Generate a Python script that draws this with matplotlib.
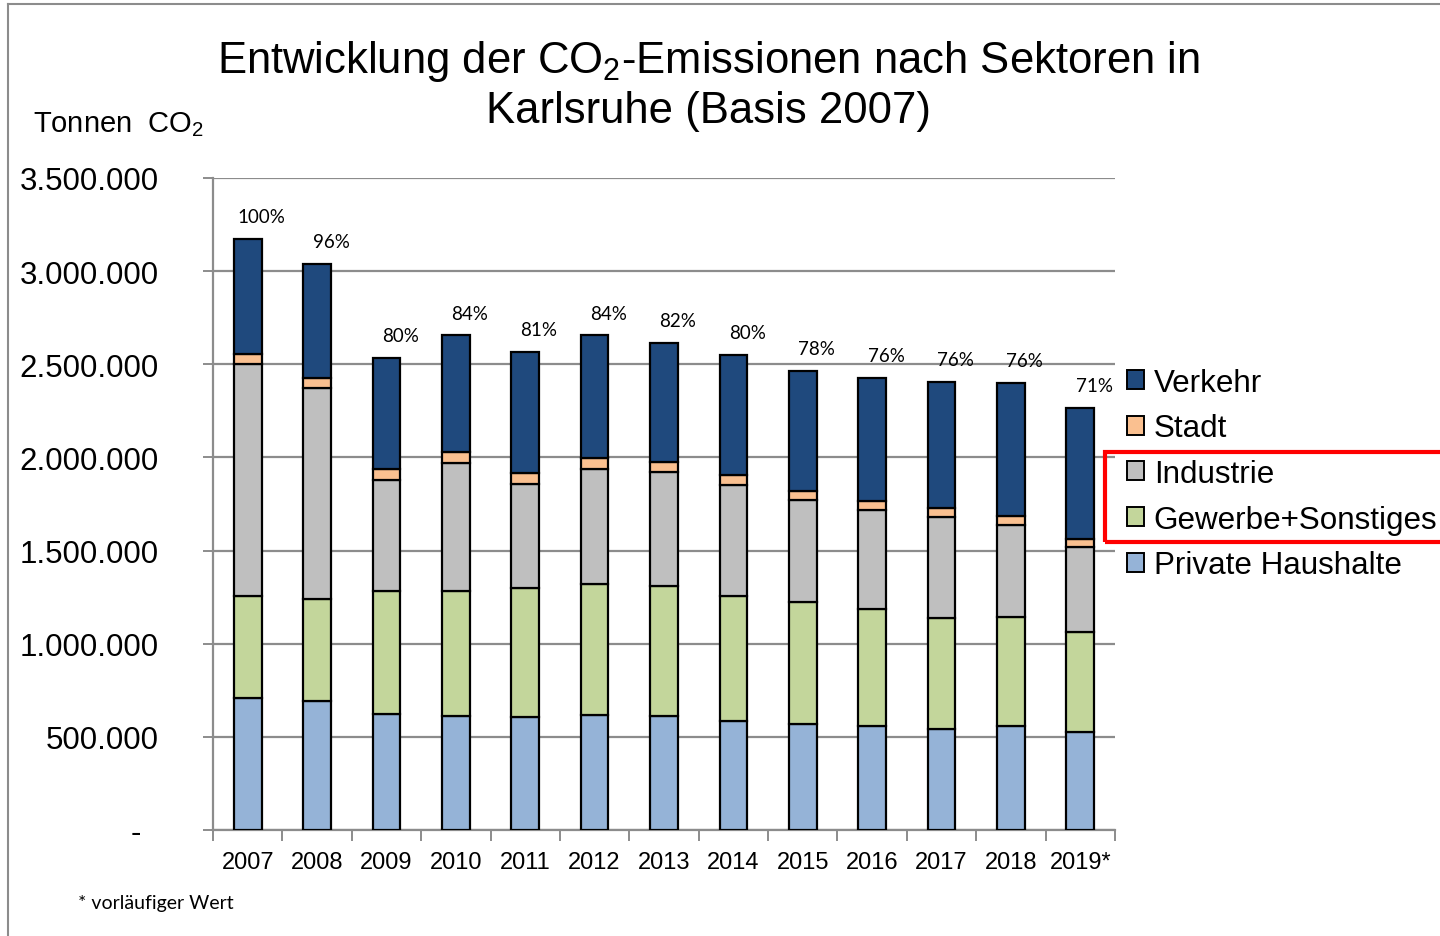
import numpy as np
import matplotlib
matplotlib.use("Agg")
import matplotlib.pyplot as plt
from matplotlib.patches import Rectangle, Patch
from matplotlib.lines import Line2D

plt.rcParams['font.family'] = ['Liberation Sans', 'DejaVu Sans']
plt.rcParams['mathtext.fontset'] = 'custom'
plt.rcParams['mathtext.rm'] = 'Liberation Sans'
plt.rcParams['mathtext.default'] = 'regular'

years = ['2007', '2008', '2009', '2010', '2011', '2012', '2013',
         '2014', '2015', '2016', '2017', '2018', '2019*']
# Tonnen CO2
private = [711000, 691000, 625000, 612000, 607000, 620000, 614000,
           584000, 570000, 557000, 543000, 557000, 527000]
gewerbe = [546000, 548000, 657000, 670000, 691000, 698000, 697000,
           671000, 653000, 629000, 593000, 589000, 537000]
industrie = [1246000, 1136000, 598000, 689000, 561000, 618000, 610000,
             595000, 550000, 530000, 544000, 490000, 454000]
stadt = [54000, 52000, 56000, 56000, 55000, 60000, 54000,
         53000, 48000, 50000, 49000, 48000, 45000]
verkehr = [618000, 612000, 598000, 628000, 654000, 659000, 639000,
           645000, 645000, 659000, 678000, 716000, 703000]
pct_labels = ['100%', '96%', '80%', '84%', '81%', '84%', '82%',
              '80%', '78%', '76%', '76%', '76%', '71%']

series = [('Private Haushalte', private, '#95B3D7'),
          ('Gewerbe+Sonstiges', gewerbe, '#C3D69B'),
          ('Industrie', industrie, '#BFBFBF'),
          ('Stadt', stadt, '#FAC090'),
          ('Verkehr', verkehr, '#1F497D')]

fig = plt.figure(figsize=(14.4, 9.37), dpi=100)
ax = fig.add_axes([213/1440, 1 - 831/937, 902/1440, 652/937])

x = np.arange(len(years))
bottom = np.zeros(len(years))
for name, vals, col in series:
    ax.bar(x, vals, width=0.40, bottom=bottom, color=col,
           edgecolor='black', linewidth=1.6, zorder=3, label=name)
    bottom += np.array(vals)

for i, lab in enumerate(pct_labels):
    ax.annotate(lab, (x[i], bottom[i]), xytext=(10, 10), textcoords='offset points',
                ha='center', va='bottom', fontsize=13.5, family=['Lato', 'DejaVu Sans'])

ax.set_xlim(-0.5, len(years) - 0.5)
ax.set_ylim(0, 3500000)
yt = np.arange(0, 3500001, 500000)
ax.set_yticks(yt)
ax.set_yticklabels(['-  '] + ['{:,}'.format(v).replace(',', '.') for v in yt[1:]], fontsize=22.5)
ax.yaxis.grid(True, color='#8c8c8c', linewidth=1.6, zorder=0)
ax.tick_params(axis='y', length=7, color='#8c8c8c', width=1.4, pad=32)
ax.set_xticks(x)
ax.set_xticklabels(years, fontsize=17)
ax.set_xticks(np.arange(-0.5, len(years), 1), minor=True)
ax.tick_params(axis='x', which='major', length=0, pad=15)
ax.tick_params(axis='x', which='minor', length=8, color='#8c8c8c', width=1.4)
for s in ['top', 'right']:
    ax.spines[s].set_visible(False)
for s in ['left', 'bottom']:
    ax.spines[s].set_color('#8c8c8c')
    ax.spines[s].set_linewidth(1.6)

fig.text(708/1440, 1 - 62/937, 'Entwicklung der CO$_2$-Emissionen nach Sektoren in',
         ha='center', va='center', fontsize=31.4)
fig.text(708/1440, 1 - 111/937, 'Karlsruhe (Basis 2007)',
         ha='center', va='center', fontsize=31.4)
fig.text(33/1440, 1 - 125/937, 'Tonnen  CO$_2$', ha='left', va='center', fontsize=21)
fig.text(78/1440, 1 - 904/937, '* vorläufiger Wert', ha='left', va='center',
         fontsize=14, family=['Lato', 'DejaVu Sans'])

handles = [Patch(facecolor=c, edgecolor='black', linewidth=1.4) for _, _, c in series][::-1]
labels = [n for n, _, _ in series][::-1]
fig.legend(handles, labels, loc='center left', bbox_to_anchor=(1127/1440, 1 - 475/937),
           frameon=False, fontsize=22.6, handlelength=0.55, handleheight=0.55,
           handletextpad=0.3, labelspacing=0.5, borderaxespad=0, borderpad=0)

fig.add_artist(Rectangle((1105/1440, 1 - 543/937), 340/1440, 90/937,
                         transform=fig.transFigure, fill=False,
                         edgecolor='#ff0000', linewidth=3))
fig.add_artist(Line2D([8/1440, 8/1440], [0, 1 - 5/937], transform=fig.transFigure,
                      color='#8c8c8c', linewidth=1.5))
fig.add_artist(Line2D([8/1440, 1], [1 - 5/937, 1 - 5/937], transform=fig.transFigure,
                      color='#8c8c8c', linewidth=1.5))

fig.savefig('out.png', dpi=100)
